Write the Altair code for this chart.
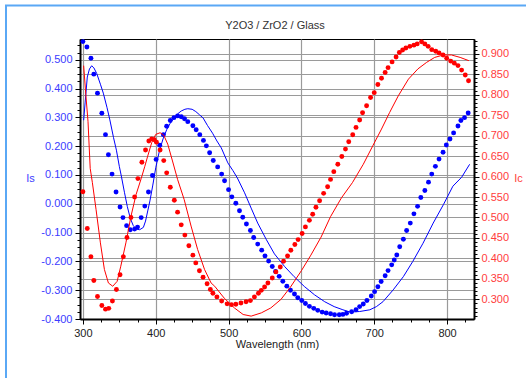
import altair as alt
import pandas as pd

# ---------------- data ----------------
# Is measured (blue dots, left axis)
is_pts_wl = [300, 305.5, 311, 315, 320, 326, 331, 335, 340, 345.5,
             351, 355, 360, 365, 371, 375, 380, 385, 390, 395.5,
             400.5, 405.5, 410.5, 415, 420, 425, 430, 435, 439.5, 444,
             451, 455.5, 460.5, 465.5, 469.5, 474, 479, 485, 490.5, 494.5,
             500, 504.5, 510, 515, 519.5, 524.5, 530, 534.5, 540, 545.5,
             550, 555, 560, 564.5, 569.5, 574.5, 580, 585, 590.5, 595,
             600.5, 605.5, 611, 617, 622.5, 628.5, 634, 640, 645.5, 652,
             657, 662, 669, 675, 680, 685, 690, 696, 700.5, 705,
             709.5, 715, 719, 724, 727.5, 731, 735, 740, 744.5, 749.5,
             754.5, 759.5, 764, 769.5, 774.5, 779, 784, 789, 794.5, 799,
             804, 809, 815, 819, 824, 829]
is_pts_val = [0.563, 0.544, 0.505, 0.450, 0.384, 0.314, 0.240, 0.170, 0.103, 0.041,
              -0.011, -0.048, -0.076, -0.090, -0.088, -0.081, -0.048, -0.008, 0.041, 0.098,
              0.154, 0.203, 0.240, 0.269, 0.289, 0.299, 0.305, 0.302, 0.295, 0.285,
              0.271, 0.257, 0.240, 0.220, 0.201, 0.177, 0.150, 0.128, 0.103, 0.080,
              0.049, 0.024, 0.002, -0.024, -0.047, -0.070, -0.093, -0.117, -0.140, -0.161,
              -0.181, -0.199, -0.218, -0.235, -0.252, -0.269, -0.286, -0.300, -0.313, -0.326,
              -0.336, -0.346, -0.356, -0.363, -0.370, -0.376, -0.379, -0.382, -0.385, -0.385,
              -0.384, -0.380, -0.375, -0.368, -0.357, -0.348, -0.336, -0.320, -0.305, -0.288,
              -0.270, -0.250, -0.232, -0.212, -0.195, -0.178, -0.149, -0.123, -0.093, -0.067,
              -0.035, -0.009, 0.022, 0.046, 0.075, 0.103, 0.130, 0.155, 0.179, 0.204,
              0.225, 0.246, 0.270, 0.289, 0.299, 0.315]

# Is fit (blue line, left axis)
is_fit_wl = [301, 303, 306, 309, 312, 315, 319, 324, 328, 333,
             337, 342, 346, 350, 353, 357, 361, 365, 369, 373,
             378, 383, 386, 389, 392, 396, 400, 405, 410, 415,
             420, 425, 430, 435, 440, 444, 450, 455, 460, 465,
             471, 478, 484, 490, 499, 506, 512, 522, 531, 540,
             552, 563, 577, 590, 604, 618, 632, 645, 657, 667,
             680, 694, 703, 712, 726, 740, 753, 767, 781, 795,
             808, 820, 831]
is_fit_val = [0.29, 0.35, 0.44, 0.468, 0.479, 0.472, 0.452, 0.415, 0.384, 0.335,
              0.291, 0.23, 0.186, 0.13, 0.093, 0.04, -0.01, -0.05, -0.075, -0.088,
              -0.090, -0.082, -0.06, -0.025, 0.01, 0.065, 0.125, 0.183, 0.225, 0.257,
              0.280, 0.297, 0.312, 0.322, 0.328, 0.330, 0.328, 0.320, 0.309, 0.298,
              0.272, 0.245, 0.218, 0.194, 0.142, 0.115, 0.090, 0.038, -0.015, -0.067,
              -0.125, -0.174, -0.218, -0.253, -0.287, -0.316, -0.340, -0.357, -0.368, -0.376,
              -0.374, -0.368, -0.357, -0.340, -0.299, -0.253, -0.200, -0.137, -0.067, -0.003,
              0.061, 0.092, 0.137]

# Ic measured (red dots, right axis)
ic_pts_wl = [300, 306, 311, 315, 320, 326, 331, 335.5, 340.5, 346,
             351, 355.5, 360.5, 366, 371, 375.5, 381, 386, 390.5, 394.5,
             398, 401, 406, 411, 415, 420, 425.5, 430, 435, 440,
             445.5, 451, 455, 460, 465, 470.5, 475, 478.5, 484, 490.5,
             498, 504, 510, 517, 524, 530, 535.5, 541, 545, 549.5,
             554, 560, 565, 571, 575.5, 581, 585.5, 591, 595.5, 601,
             605.5, 611, 615.5, 620, 625, 630.5, 636, 640, 644.5, 650,
             655.5, 660.5, 665, 670.5, 675, 680, 684, 689.5, 695, 700,
             705, 710, 715, 719, 724.5, 730, 734.5, 739, 743.5, 749,
             754.5, 759, 765, 769.5, 774, 779, 784.5, 789, 794.5, 799.5,
             805, 810, 815, 820, 825, 829.5]
ic_pts_val = [0.563, 0.473, 0.404, 0.346, 0.307, 0.285, 0.276, 0.278, 0.296, 0.324,
              0.360, 0.404, 0.451, 0.500, 0.550, 0.595, 0.635, 0.665, 0.687, 0.692,
              0.690, 0.684, 0.665, 0.639, 0.609, 0.574, 0.542, 0.513, 0.482, 0.457,
              0.431, 0.408, 0.389, 0.370, 0.354, 0.338, 0.324, 0.315, 0.306, 0.296,
              0.289, 0.287, 0.288, 0.291, 0.294, 0.297, 0.306, 0.315, 0.322, 0.330,
              0.340, 0.352, 0.367, 0.379, 0.393, 0.406, 0.420, 0.434, 0.446, 0.461,
              0.477, 0.493, 0.508, 0.525, 0.541, 0.559, 0.575, 0.593, 0.612, 0.630,
              0.649, 0.667, 0.685, 0.702, 0.720, 0.738, 0.756, 0.773, 0.793, 0.805,
              0.825, 0.840, 0.854, 0.866, 0.880, 0.892, 0.903, 0.909, 0.914, 0.918,
              0.921, 0.924, 0.929, 0.924, 0.918, 0.910, 0.906, 0.902, 0.897, 0.889,
              0.882, 0.877, 0.871, 0.860, 0.848, 0.834]

# Ic fit (red line, right axis)
ic_fit_wl = [301, 304, 307, 310, 313, 318, 324, 329.5, 335, 341,
             347, 352, 359, 366, 373, 380, 385, 389, 394.5, 400,
             406, 411, 416.5, 423, 430, 439, 448.5, 457.5, 467, 476,
             481, 494, 508, 520, 531, 545, 558, 572, 585, 600,
             613, 627, 640, 655, 670, 685, 698, 710, 721, 733,
             747, 760, 772, 783, 795, 806, 818, 830]
ic_fit_val = [0.871, 0.80, 0.735, 0.62, 0.585, 0.52, 0.438, 0.373, 0.340, 0.332,
              0.344, 0.381, 0.438, 0.503, 0.556, 0.595, 0.625, 0.650, 0.683, 0.703,
              0.707, 0.701, 0.679, 0.638, 0.593, 0.544, 0.479, 0.422, 0.373, 0.340,
              0.332, 0.303, 0.279, 0.263, 0.259, 0.267, 0.279, 0.300, 0.330, 0.370,
              0.408, 0.452, 0.502, 0.548, 0.585, 0.630, 0.675, 0.716, 0.756, 0.797,
              0.838, 0.863, 0.879, 0.891, 0.897, 0.897, 0.891, 0.883]

title_text = "Y2O3 / ZrO2 / Glass"
x_title = "Wavelength (nm)"
is_title = "Is"
ic_title = "Ic"

# ---------------- styling ----------------
FONT = "Liberation Sans"
BLUE = "#0000ff"
RED = "#ff0000"
BLUE_TXT = "#3c3cff"
RED_TXT = "#ff3c3c"
GRID = "#9a9a9a"
FRAME = "#5aa8f5"

W, H = 394, 280
X_DOMAIN = [296, 837]
IS_DOMAIN = [-0.4, 0.572]
IC_DOMAIN = [0.252, 0.936]

x_ticks = [300 + 25 * i for i in range(22)]
is_ticks = [round(-0.4 + 0.025 * i, 3) for i in range(39)]
ic_ticks = [round(0.26 + 0.01 * i, 2) for i in range(68)]

x_major = "datum.value % 100 === 0"
is_major = "abs(datum.value * 10 - round(datum.value * 10)) < 0.001"
ic_major = "abs(datum.value * 20 - round(datum.value * 20)) < 0.001"

df_is_pts = pd.DataFrame({"wl": is_pts_wl, "Is": is_pts_val})
df_is_fit = pd.DataFrame({"wl": is_fit_wl, "Is": is_fit_val})
df_ic_pts = pd.DataFrame({"wl": ic_pts_wl, "Ic": ic_pts_val})
df_ic_fit = pd.DataFrame({"wl": ic_fit_wl, "Ic": ic_fit_val})

x_enc = alt.X(
    "wl:Q",
    scale=alt.Scale(domain=X_DOMAIN, nice=False, zero=False),
    axis=alt.Axis(
        values=x_ticks, title=x_title,
        labelExpr=f"{x_major} ? format(datum.value, 'd') : ''",
        labelOverlap=False, labelFlush=False,
        labelFont=FONT, labelFontSize=11, labelColor="#222222", labelPadding=3,
        titleFont=FONT, titleFontSize=11, titleFontWeight="normal", titleColor="#222222",
        titleY=25, titleBaseline="middle",
        domainColor="black", domainWidth=2,
        tickColor="black", tickWidth=1,
        tickSize={"condition": {"test": x_major, "value": 5}, "value": 3},
        grid=True, gridColor=GRID, gridWidth=1.2,
        gridOpacity={"condition": {"test": x_major, "value": 1}, "value": 0},
    ),
)

is_enc = alt.Y(
    "Is:Q",
    scale=alt.Scale(domain=IS_DOMAIN, nice=False, zero=False),
    axis=alt.Axis(
        orient="left", values=is_ticks, title=is_title,
        labelExpr=f"{is_major} ? (datum.value < 0 ? '-' : '') + format(abs(datum.value), '.3f') : ''",
        labelOverlap=False, labelFlush=False,
        labelFont=FONT, labelFontSize=11, labelColor=BLUE_TXT, labelPadding=3,
        titleFont=FONT, titleFontSize=11, titleFontWeight="normal", titleColor=BLUE_TXT,
        titleAngle=0, titleX=-50, titleY=139, titleAlign="center", titleBaseline="middle",
        domainColor="black", domainWidth=2,
        tickColor="black", tickWidth=1,
        tickSize={"condition": {"test": is_major, "value": 5}, "value": 3},
        grid=True, gridColor=GRID, gridWidth=1.2,
        gridOpacity={"condition": {"test": is_major, "value": 1}, "value": 0},
    ),
)

ic_enc = alt.Y(
    "Ic:Q",
    scale=alt.Scale(domain=IC_DOMAIN, nice=False, zero=False),
    axis=alt.Axis(
        orient="right", values=ic_ticks, title=ic_title,
        labelExpr=f"{ic_major} ? format(datum.value, '.3f') : ''",
        labelOverlap=False, labelFlush=False,
        labelFont=FONT, labelFontSize=11, labelColor=RED_TXT, labelPadding=2,
        titleFont=FONT, titleFontSize=11, titleFontWeight="normal", titleColor=RED_TXT,
        titleAngle=0, titleX=44, titleY=139, titleAlign="center", titleBaseline="middle",
        domainColor="black", domainWidth=2,
        tickColor="black", tickWidth=1,
        tickSize={"condition": {"test": ic_major, "value": 5}, "value": 3},
        grid=True, gridColor=GRID, gridWidth=1.2,
        gridOpacity={"condition": {"test": ic_major, "value": 1}, "value": 0},
    ),
)

is_dots = alt.Chart(df_is_pts).mark_circle(size=24, color=BLUE, opacity=1).encode(x=x_enc, y=is_enc)
is_line = alt.Chart(df_is_fit).mark_line(color=BLUE, strokeWidth=1).encode(x=x_enc, y=is_enc)
ic_dots = alt.Chart(df_ic_pts).mark_circle(size=24, color=RED, opacity=1).encode(x=x_enc, y=ic_enc)
ic_line = alt.Chart(df_ic_fit).mark_line(color=RED, strokeWidth=1).encode(x=x_enc, y=ic_enc)

one_row = pd.DataFrame({"k": [0]})
frame_left = alt.Chart(one_row).mark_rule(color=FRAME, strokeWidth=2).encode(
    x=alt.value(-74), y=alt.value(-34), y2=alt.value(339))
frame_top = alt.Chart(one_row).mark_rule(color=FRAME, strokeWidth=2).encode(
    x=alt.value(-75), x2=alt.value(446), y=alt.value(-33.5))
title_mark = alt.Chart(one_row).mark_text(
    text=title_text, font=FONT, fontSize=11, color="#333333",
    align="center", baseline="middle").encode(x=alt.value(195), y=alt.value(-13))

blue_layer = alt.layer(is_line, is_dots)
red_layer = alt.layer(ic_line, ic_dots)

chart = (
    alt.layer(blue_layer, red_layer, frame_left, frame_top, title_mark)
    .resolve_scale(y="independent")
    .properties(
        width=W, height=H,
        autosize=alt.AutoSizeParams(type="none"),
        padding={"left": 80, "top": 39, "right": 52, "bottom": 59},
        background="white",
    )
    .configure_view(stroke="black", strokeWidth=1)
)

chart.save("out.html", embed_options={"renderer": "svg", "actions": False})
